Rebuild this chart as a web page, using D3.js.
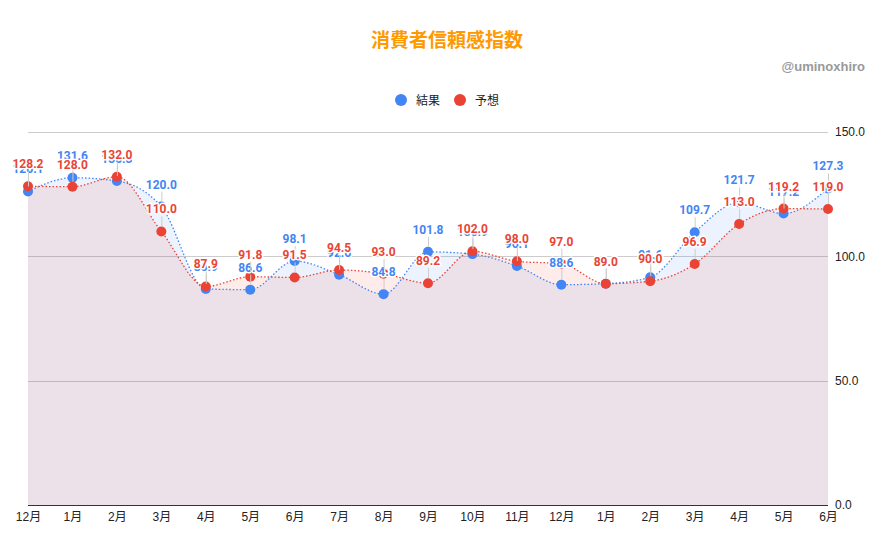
<!DOCTYPE html>
<html><head><meta charset="utf-8">
<script src="https://cdn.jsdelivr.net/npm/d3@7/dist/d3.min.js"></script>
<style>
html,body{margin:0;padding:0;background:#fff;}
svg{display:block;}
</style>
</head><body>
<svg id="chart" width="893" height="552"></svg>
<script>
const categories = ["12月","1月","2月","3月","4月","5月","6月","7月","8月","9月","10月","11月","12月","1月","2月","3月","4月","5月","6月"];
const actual   = [126.1,131.6,130.3,120.0,86.9,86.6,98.1,92.6,84.8,101.8,100.9,96.1,88.6,89.0,91.6,109.7,121.7,117.2,127.3];
const forecast = [128.2,128.0,132.0,110.0,87.9,91.8,91.5,94.5,93.0,89.2,102.0,98.0,97.0,89.0,90.0,96.9,113.0,119.2,119.0];
const yTicks = [0,50,100,150];
const seriesNames = ["結果","予想"];
const seriesColors = ["#4285F4","#EA4335"];

(function(){
const svg = d3.select("#chart");
const pLeft = 28, pRight = 828, pTop = 132, pBottom = 505;

const x = d3.scalePoint().domain(d3.range(categories.length)).range([pLeft, pRight]);
const y = d3.scaleLinear().domain([0,150]).range([pBottom, pTop]);

const jp = "'Noto Sans CJK JP', 'Noto Sans', sans-serif";
const arial = "Arial, 'Liberation Sans', 'Noto Sans CJK JP', sans-serif";

// title
svg.append("text").attr("x", 447).attr("y", 47).attr("text-anchor","middle")
  .attr("font-family", jp).attr("font-weight","bold").attr("font-size", 19)
  .attr("fill","#FF9900").text("消費者信頼感指数");
svg.append("text").attr("x", 865).attr("y", 71).attr("text-anchor","end")
  .attr("font-family", arial).attr("font-weight","bold").attr("font-size", 13)
  .attr("fill","#999999").text("@uminoxhiro");

// legend
const legendX = [401, 460];
seriesNames.forEach((n,i)=>{
  svg.append("circle").attr("cx", legendX[i]).attr("cy", 100).attr("r", 6).attr("fill", seriesColors[i]);
  svg.append("text").attr("x", legendX[i] + 15).attr("y", 104.5)
    .attr("font-family", jp).attr("font-size", 12).attr("fill","#222").text(n);
});

// gridlines
const grid = svg.append("g");
yTicks.filter(t=>t>0).forEach(t=>{
  grid.append("line").attr("x1", pLeft).attr("x2", pRight).attr("y1", Math.round(y(t))+0.5).attr("y2", Math.round(y(t))+0.5)
    .attr("stroke","#cccccc").attr("stroke-width",1);
});

// y axis on right
const yAxis = d3.axisRight(y).tickValues(yTicks).tickSize(0).tickPadding(7).tickFormat(d=>d3.format(".1f")(d));
const ya = svg.append("g").attr("transform",`translate(${pRight},0)`).call(yAxis);
ya.select(".domain").remove();
ya.selectAll("text").attr("font-family", arial).attr("font-size", 12).attr("fill","#222").attr("x", 7);

// x axis labels
const xAxis = d3.axisBottom(x).tickSize(0).tickPadding(7).tickFormat(i=>categories[i]);
const xa = svg.append("g").attr("transform",`translate(0,${pBottom})`).call(xAxis);
xa.select(".domain").remove();
xa.selectAll("text").attr("font-family", arial).attr("font-size", 12).attr("fill","#222");

const series = [actual, forecast];
const curve = d3.curveMonotoneX;
const area = d3.area().x((d,i)=>x(i)).y0(y(0)).y1(d=>y(d)).curve(curve);
const line = d3.line().x((d,i)=>x(i)).y(d=>y(d)).curve(curve);

series.forEach((s,k)=>{
  svg.append("path").datum(s).attr("d", area).attr("fill", seriesColors[k]).attr("fill-opacity", 0.1);
});
// baseline
svg.append("line").attr("x1", pLeft).attr("x2", pRight).attr("y1", pBottom+0.5).attr("y2", pBottom+0.5)
  .attr("stroke","#333").attr("stroke-width",1);

series.forEach((s,k)=>{
  svg.append("path").datum(s).attr("d", line).attr("fill","none")
    .attr("stroke", seriesColors[k]).attr("stroke-width", 1.3).attr("stroke-dasharray","1.5,2");
});
series.forEach((s,k)=>{
  svg.append("g").selectAll("circle").data(s).join("circle")
    .attr("cx",(d,i)=>x(i)).attr("cy",d=>y(d)).attr("r",5).attr("fill", seriesColors[k]);
});
// leaders + labels
series.forEach((s,k)=>{
  const g = svg.append("g");
  g.selectAll("line").data(s).join("line")
    .attr("x1",(d,i)=>x(i)+0.5).attr("x2",(d,i)=>x(i)+0.5)
    .attr("y1", d=>y(d)-5).attr("y2", d=>y(d)-15)
    .attr("stroke","#cccccc").attr("stroke-width",1);
  g.selectAll("text").data(s).join("text")
    .attr("x",(d,i)=>x(i)).attr("y", d=>y(d)-18)
    .attr("text-anchor","middle")
    .attr("font-family","Roboto, Arial, sans-serif").attr("font-weight","bold").attr("font-size",12)
    .attr("fill", seriesColors[k])
    .attr("stroke","#fff").attr("stroke-width",3).attr("stroke-linejoin","round").attr("paint-order","stroke")
    .text(d=>d3.format(".1f")(d));
});
})();
</script>
</body></html>
